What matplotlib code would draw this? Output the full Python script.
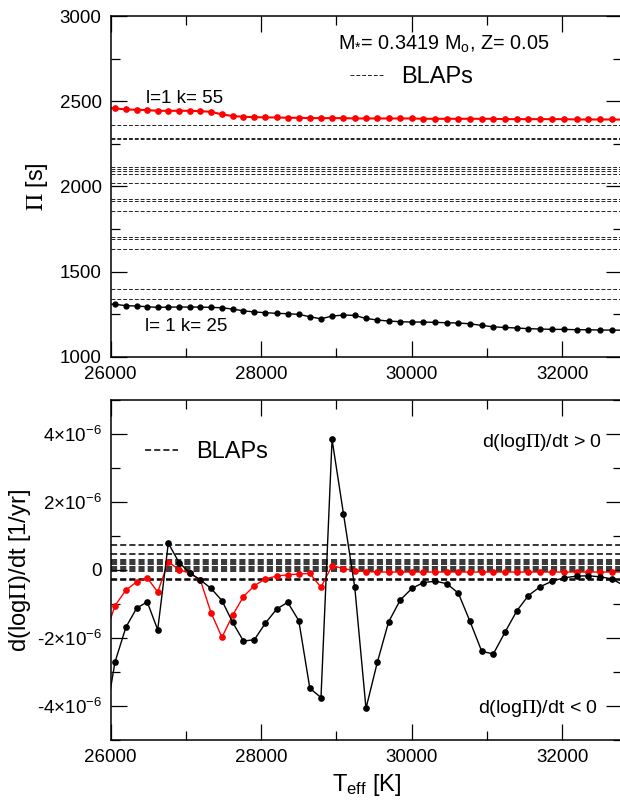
import matplotlib
matplotlib.use('Agg')
import matplotlib.pyplot as plt
from matplotlib.ticker import MultipleLocator, FixedLocator, FixedFormatter

# Schrift: Arial-artig, Mathe-Text ebenfalls serifenlos
plt.rcParams.update({
    "font.family": ["Liberation Sans", "DejaVu Sans"],
    "mathtext.fontset": "custom",
    "mathtext.rm": "Liberation Sans",
    "mathtext.it": "Liberation Sans:italic",
    "mathtext.bf": "Liberation Sans:bold",
    "font.size": 13.5,
    "axes.linewidth": 1.1,
})

# effective temperature of the models [K]
teff = [25915, 26057, 26203, 26346, 26486, 26625, 26766, 26908, 27054, 27191, 27333,
        27479, 27621, 27765, 27910, 28057, 28206, 28352, 28500, 28647, 28795,
        28942, 29094, 29244, 29393, 29543, 29693, 29849, 30004, 30156, 30311,
        30465, 30620, 30775, 30931, 31085, 31243, 31398, 31552, 31709, 31865,
        32024, 32193, 32347, 32503, 32658, 32815]

# periods [s]
period_k55 = [2461, 2458, 2452, 2450, 2448, 2444, 2444, 2444, 2444, 2442, 2438,
              2423, 2413, 2409, 2407, 2405, 2405, 2403, 2403, 2401, 2401,
              2401, 2401, 2399, 2399, 2399, 2399, 2399, 2399, 2397, 2397,
              2397, 2397, 2397, 2397, 2397, 2395, 2395, 2395, 2395, 2395,
              2395, 2393, 2393, 2393, 2393, 2392]
period_k25 = [1311, 1308, 1300, 1298, 1294, 1290, 1292, 1292, 1292, 1292, 1290,
              1288, 1280, 1270, 1263, 1259, 1255, 1253, 1249, 1235, 1223,
              1239, 1245, 1243, 1225, 1216, 1210, 1206, 1204, 1204, 1202,
              1200, 1198, 1194, 1184, 1176, 1172, 1169, 1165, 1163, 1161,
              1161, 1159, 1159, 1157, 1157, 1156]

# rate of period change d(log P)/dt [1e-6 / yr]
dlogp_k55 = [-2.00, -1.05, -0.59, -0.35, -0.23, -0.65, 0.24, 0.01, -0.10, -0.29, -1.25,
             -1.98, -1.33, -0.78, -0.46, -0.26, -0.18, -0.14, -0.12, -0.10, -0.51,
             0.13, 0.04, -0.02, -0.05, -0.06, -0.06, -0.06, -0.06, -0.06, -0.06,
             -0.06, -0.06, -0.06, -0.06, -0.06, -0.06, -0.06, -0.06, -0.06, -0.06,
             -0.06, -0.06, -0.06, -0.06, -0.06, -0.06]
dlogp_k25 = [-4.60, -2.71, -1.68, -1.12, -0.94, -1.76, 0.79, 0.22, -0.09, -0.29, -0.54,
             -0.90, -1.54, -2.09, -2.05, -1.56, -1.15, -0.95, -1.49, -3.48, -3.75,
             3.84, 1.65, -0.51, -4.07, -2.72, -1.53, -0.88, -0.54, -0.37, -0.33,
             -0.40, -0.68, -1.51, -2.39, -2.47, -1.82, -1.20, -0.75, -0.49, -0.33,
             -0.23, -0.18, -0.17, -0.20, -0.26, -0.45]

# observed BLAPs
blap_periods = [2358, 2282, 2276, 2115, 2102, 2088, 2073, 2018, 1924, 1914, 1853,
                1703, 1691, 1634, 1396, 1339]
blap_rates = [0.75, 0.47, 0.29, 0.225, 0.167, 0.097, 0.035, -0.015, -0.255, -0.30]

rate_ticks = [-4e-6, -2e-6, 0, 2e-6, 4e-6]
rate_labels = ['-4×10$^{-6}$', '-2×10$^{-6}$', '0', '2×10$^{-6}$', '4×10$^{-6}$']

scale = 1e-6


def style_axes(ax):
    ax.set_xlim(26000, 32795)
    ax.xaxis.set_major_locator(MultipleLocator(2000))
    ax.xaxis.set_minor_locator(MultipleLocator(1000))
    ax.tick_params(axis='both', which='major', direction='in', length=11.5, width=0.9,
                   top=True, right=True, pad=6.5, labelsize=13.5)
    ax.tick_params(axis='both', which='minor', direction='in', length=6.5, width=0.9,
                   top=True, right=True)


fig = plt.figure(figsize=(6.2, 8), dpi=100)

# ---------- oben: Perioden ----------
ax1 = fig.add_axes([0.1785, 0.554, 0.8247, 0.4259])
for i, p in enumerate(blap_periods):
    ax1.axhline(p, color='#222222', ls='--', lw=0.7, dashes=(4, 2),
                label='BLAPs' if i == 0 else None)
ax1.plot(teff, period_k55, color='red', lw=1.5, marker='o', ms=3.8)
ax1.plot(teff, period_k25, color='black', lw=1.0, marker='o', ms=3.5)
style_axes(ax1)
ax1.set_ylim(1000, 3000)
ax1.yaxis.set_major_locator(MultipleLocator(500))
ax1.yaxis.set_minor_locator(MultipleLocator(250))
ax1.set_ylabel(r'$\Pi$ [s]', fontsize=17, math_fontfamily='stix')
ax1.yaxis.set_label_coords(-0.119, 0.5)
ax1.text(26470, 2488, 'l=1 k= 55', fontsize=13.5, va='baseline')
ax1.text(26456, 1153, 'l= 1 k= 25', fontsize=13.5, va='baseline')
ax1.text(0.4446, 0.900, r'M$_{*}$= 0.3419 M$_{\rm o}$, Z= 0.05', fontsize=14.3,
         transform=ax1.transAxes, va='baseline')
ax1.legend(loc='center left', bbox_to_anchor=(0.468, 0.821), frameon=False,
           fontsize=17, handlelength=1.4, handletextpad=0.76, borderpad=0,
           borderaxespad=0)

# ---------- unten: Periodenaenderung ----------
ax2 = fig.add_axes([0.1785, 0.075, 0.8247, 0.425])
for i, r in enumerate(blap_rates):
    ax2.axhline(r * scale, color='black', ls='--', lw=1.1, dashes=(4, 2),
                label='BLAPs' if i == 0 else None)
ax2.plot(teff, [v * scale for v in dlogp_k55], color='red', lw=1.0, marker='o', ms=3.8)
ax2.plot(teff, [v * scale for v in dlogp_k25], color='black', lw=1.0, marker='o', ms=3.8)
style_axes(ax2)
ax2.set_ylim(-5e-6, 5e-6)
ax2.yaxis.set_major_locator(FixedLocator(rate_ticks))
ax2.yaxis.set_major_formatter(FixedFormatter(rate_labels))
ax2.yaxis.set_minor_locator(MultipleLocator(1e-6))
ax2.set_ylabel(r'd(log$\Pi$)/dt [1/yr]', fontsize=17, math_fontfamily='stix')
ax2.yaxis.set_label_coords(-0.151, 0.5)
ax2.set_xlabel(r'T$_{\rm eff}$ [K]', fontsize=17, labelpad=4)
ax2.text(32525, 3.61e-6, r'd(log$\Pi$)/dt > 0', fontsize=14, ha='right',
         va='baseline', math_fontfamily='stix')
ax2.text(32480, -4.2e-6, r'd(log$\Pi$)/dt < 0', fontsize=14, ha='right',
         va='baseline', math_fontfamily='stix')
ax2.legend(loc='center left', bbox_to_anchor=(0.067, 0.847), frameon=False,
           fontsize=17, handlelength=1.4, handletextpad=0.76, borderpad=0,
           borderaxespad=0)

plt.savefig('out.png', dpi=100)
plt.close()
